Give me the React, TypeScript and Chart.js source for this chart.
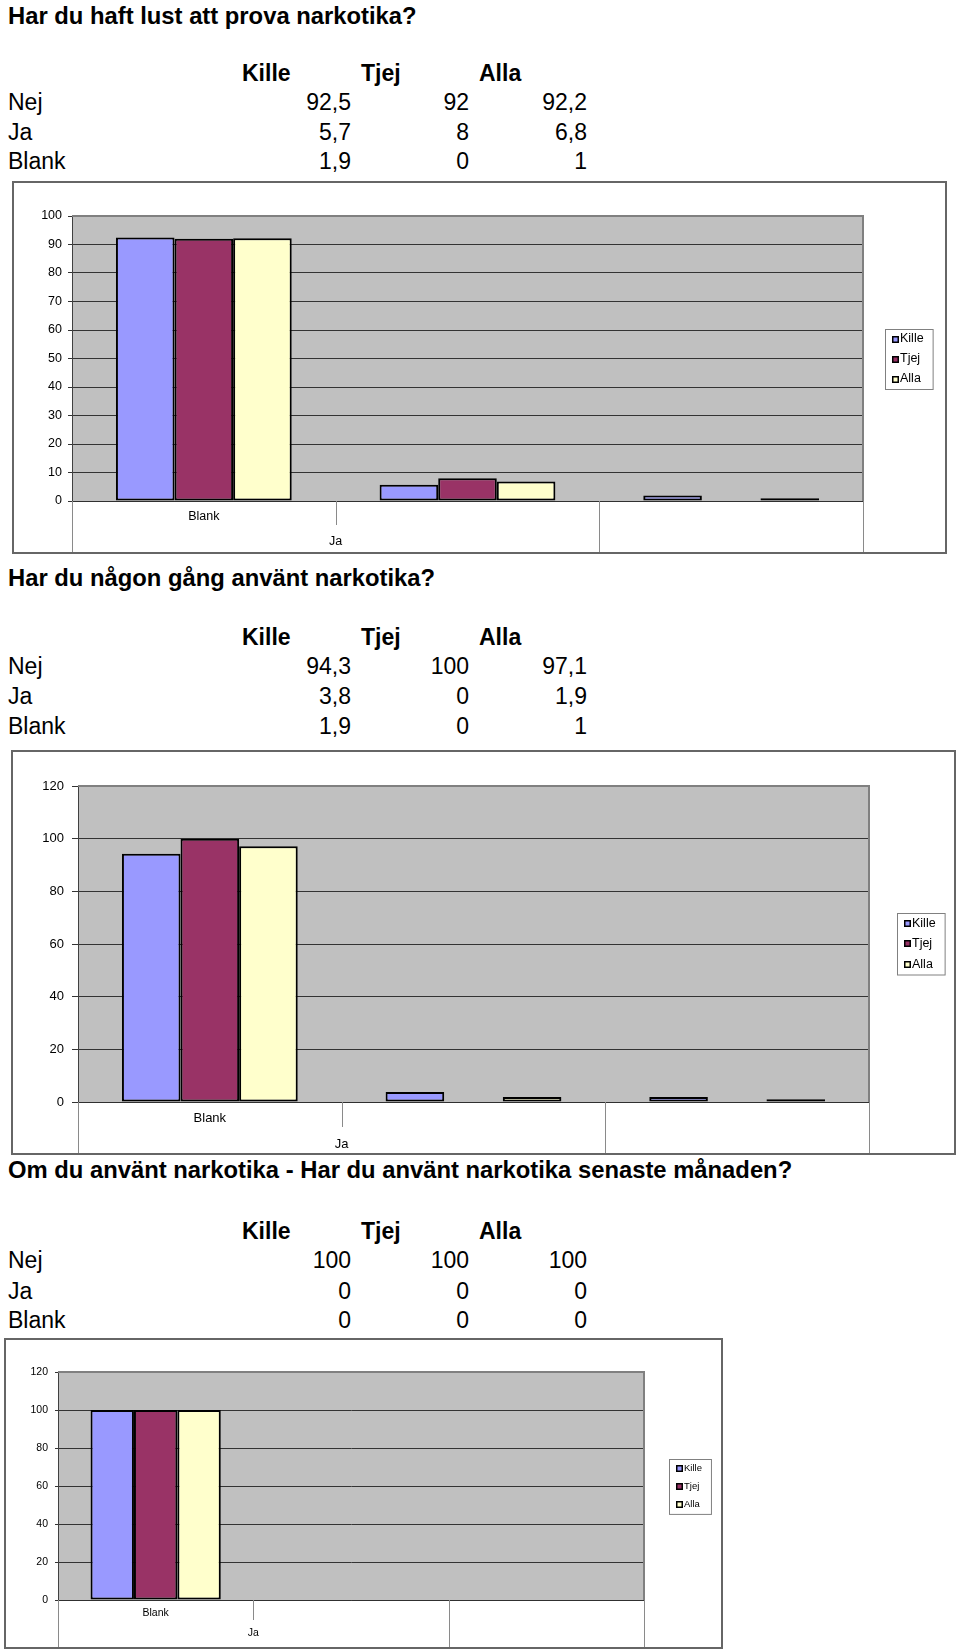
import React, { useEffect, useRef } from "react";
import { Chart, registerables } from "chart.js";

Chart.register(...registerables);

const FONT = '"Liberation Sans", Arial, Helvetica, sans-serif';

// ---- shared data ----
const seriesNames = ["Kille", "Tjej", "Alla"];
const seriesColors = ["#9999FF", "#993366", "#FFFFCC"];
const rowLabels = ["Nej", "Ja", "Blank"];
const axisLabels = ["Blank", "", ""];
const axisGroupLabel = "Ja";

// ---- question 1 ----
const q1Title = "Har du haft lust att prova narkotika?";
const q1Kille = [92.5, 5.7, 1.9];
const q1Tjej = [92, 8, 0];
const q1Alla = [92.2, 6.8, 1];
const q1YMax = 100;
const q1YStep = 10;

// ---- question 2 ----
const q2Title = "Har du någon gång använt narkotika?";
const q2Kille = [94.3, 3.8, 1.9];
const q2Tjej = [100, 0, 0];
const q2Alla = [97.1, 1.9, 1];
const q2YMax = 120;
const q2YStep = 20;

// ---- question 3 ----
const q3Title = "Om du använt narkotika - Har du använt narkotika senaste månaden?";
const q3Kille = [100, 0, 0];
const q3Tjej = [100, 0, 0];
const q3Alla = [100, 0, 0];
const q3YMax = 120;
const q3YStep = 20;

type Cfg = {
  box: { x: number; y: number; w: number; h: number };
  area: { left: number; top: number; right: number; bottom: number };
  tickFont: number;
  tickLen: number;
  tickPad: number;
  legendFont: number;
  legendRowH: number;
  legendRightGap: number;
  xLabelPad: number;
  dividerLen: number;
  groupLabelOffset: number;
};

const decorPlugin = {
  id: "decor",
  beforeDraw(chart: any) {
    const { ctx, chartArea: a, width, height } = chart;
    ctx.save();
    ctx.fillStyle = "#ffffff";
    ctx.fillRect(0, 0, width, height);
    ctx.fillStyle = "#C0C0C0";
    ctx.fillRect(a.left, a.top, a.right - a.left, a.bottom - a.top);
    ctx.restore();
  },
  afterDatasetsDraw(chart: any) {
    const { ctx, chartArea: a } = chart;
    ctx.save();
    ctx.strokeStyle = "#808080";
    ctx.lineWidth = 2;
    ctx.beginPath();
    ctx.moveTo(a.left, a.top);
    ctx.lineTo(a.right, a.top);
    ctx.lineTo(a.right, a.bottom);
    ctx.stroke();
    ctx.restore();
  },
  afterDraw(chart: any) {
    const { ctx, chartArea: a, width, height } = chart;
    const cfg: Cfg & { groupLabel: string } = chart.options.plugins.decor;
    const xs = chart.scales.x;
    const n = chart.data.labels.length;
    const bounds: number[] = [];
    for (let i = 0; i <= n; i++) {
      if (i === 0) bounds.push(a.left);
      else if (i === n) bounds.push(a.right);
      else bounds.push((xs.getPixelForValue(i - 1) + xs.getPixelForValue(i)) / 2);
    }
    ctx.save();
    ctx.strokeStyle = "#8a8a8a";
    ctx.lineWidth = 1;
    bounds.forEach((bx, i) => {
      const y2 = i === 1 ? a.bottom + cfg.dividerLen : height;
      ctx.beginPath();
      ctx.moveTo(Math.round(bx) + 0.5, a.bottom);
      ctx.lineTo(Math.round(bx) + 0.5, y2);
      ctx.stroke();
    });
    ctx.fillStyle = "#000";
    ctx.font = `${cfg.tickFont}px ${FONT}`;
    ctx.textAlign = "center";
    ctx.textBaseline = "middle";
    ctx.fillText(cfg.groupLabel, bounds[1], a.bottom + cfg.groupLabelOffset);

    // outer border
    ctx.strokeStyle = "#666666";
    ctx.lineWidth = 2;
    ctx.strokeRect(1, 1, width - 2, height - 2);

    // legend
    const ds = chart.data.datasets;
    ctx.font = `${cfg.legendFont}px ${FONT}`;
    const tw = Math.max(...ds.map((d: any) => ctx.measureText(d.label).width));
    const lw = 7 + 7 + 1 + tw + 9;
    const lh = ds.length * cfg.legendRowH;
    const lx = Math.round(width - cfg.legendRightGap - lw);
    const ly = Math.round((a.top + a.bottom) / 2 - lh / 2);
    ctx.fillStyle = "#fff";
    ctx.fillRect(lx, ly, lw, lh);
    ctx.strokeStyle = "#808080";
    ctx.lineWidth = 1;
    ctx.strokeRect(lx + 0.5, ly + 0.5, lw, lh);
    ds.forEach((d: any, i: number) => {
      const cy = ly + cfg.legendRowH * (i + 0.5);
      ctx.fillStyle = "#000";
      ctx.fillRect(lx + 7, Math.round(cy - 3.5), 7, 7);
      ctx.fillStyle = d.backgroundColor;
      ctx.fillRect(lx + 8.5, Math.round(cy - 3.5) + 1.5, 4, 4);
      ctx.fillStyle = "#000";
      ctx.textAlign = "left";
      ctx.textBaseline = "middle";
      ctx.fillText(d.label, lx + 15, cy);
    });
    ctx.restore();
  },
};

function BarChart({
  cfg,
  kille,
  tjej,
  alla,
  yMax,
  yStep,
}: {
  cfg: Cfg;
  kille: number[];
  tjej: number[];
  alla: number[];
  yMax: number;
  yStep: number;
}) {
  const ref = useRef<HTMLCanvasElement>(null);
  useEffect(() => {
    const values = [kille, tjej, alla];
    const chart = new Chart(ref.current as HTMLCanvasElement, {
      type: "bar",
      data: {
        labels: axisLabels,
        datasets: seriesNames.map((name, i) => ({
          label: name,
          data: values[i],
          backgroundColor: seriesColors[i],
          borderColor: "#000000",
          borderWidth: 2,
          borderSkipped: false,
          categoryPercentage: 2 / 3,
          barPercentage: 1,
        })),
      },
      options: {
        animation: false,
        responsive: false,
        maintainAspectRatio: false,
        devicePixelRatio: 1,
        layout: {
          padding: { left: 0, top: cfg.area.top, right: cfg.area.right, bottom: 0 },
        },
        plugins: {
          legend: { display: false },
          tooltip: { enabled: false },
          decor: { ...cfg, groupLabel: axisGroupLabel },
        } as any,
        scales: {
          x: {
            type: "category",
            grid: { display: false, drawTicks: false },
            border: { display: true, color: "#303030", width: 1 },
            ticks: {
              color: "#000",
              font: { family: FONT, size: cfg.tickFont },
              padding: cfg.xLabelPad,
              maxRotation: 0,
              autoSkip: false,
            },
            afterFit: (s: any) => {
              s.height = cfg.area.bottom;
            },
          },
          y: {
            min: 0,
            max: yMax,
            grid: { color: "#333333", lineWidth: 1, drawTicks: true, tickLength: cfg.tickLen },
            border: { display: true, color: "#404040", width: 1 },
            ticks: {
              stepSize: yStep,
              color: "#000",
              font: { family: FONT, size: cfg.tickFont },
              padding: cfg.tickPad,
            },
            afterFit: (s: any) => {
              s.width = cfg.area.left;
            },
          },
        },
      },
      plugins: [decorPlugin],
    });
    return () => chart.destroy();
  }, []);
  return (
    <canvas
      ref={ref}
      width={cfg.box.w}
      height={cfg.box.h}
      style={{
        position: "absolute",
        left: cfg.box.x,
        top: cfg.box.y,
        width: cfg.box.w,
        height: cfg.box.h,
      }}
    />
  );
}

const fmt = (v: number) => String(v).replace(".", ",");

function Text({
  x,
  cy,
  children,
  bold,
  size,
  align,
}: {
  x: number;
  cy: number;
  children: React.ReactNode;
  bold?: boolean;
  size: number;
  align?: "left" | "right";
}) {
  const lh = 28;
  const style: React.CSSProperties = {
    position: "absolute",
    top: cy - lh / 2,
    lineHeight: `${lh}px`,
    fontSize: size,
    fontWeight: bold ? "bold" : "normal",
    whiteSpace: "nowrap",
    color: "#000",
  };
  if (align === "right") {
    style.left = x - 200;
    style.width = 200;
    style.textAlign = "right";
  } else {
    style.left = x;
  }
  return <div style={style}>{children}</div>;
}

function Section({
  title,
  kille,
  tjej,
  alla,
  titleY,
  headerY,
  rowYs,
}: {
  title: string;
  kille: number[];
  tjej: number[];
  alla: number[];
  titleY: number;
  headerY: number;
  rowYs: number[];
}) {
  const headerX = [242, 361, 479];
  const valueRight = [351, 469, 587];
  const cols = [kille, tjej, alla];
  const fs = 23;
  return (
    <>
      <Text x={8} cy={titleY} bold size={23.8}>
        {title}
      </Text>
      {seriesNames.map((s, i) => (
        <Text key={s} x={headerX[i]} cy={headerY} bold size={fs}>
          {s}
        </Text>
      ))}
      {rowLabels.map((r, ri) => (
        <React.Fragment key={r}>
          <Text x={8} cy={rowYs[ri]} size={fs}>
            {r}
          </Text>
          {cols.map((c, ci) => (
            <Text key={ci} x={valueRight[ci]} cy={rowYs[ri]} size={fs} align="right">
              {fmt(c[ri])}
            </Text>
          ))}
        </React.Fragment>
      ))}
    </>
  );
}

const cfg1: Cfg = {
  box: { x: 12, y: 181, w: 935, h: 373 },
  area: { left: 60, top: 35, right: 84, bottom: 53 },
  tickFont: 12.5,
  tickLen: 4,
  tickPad: 6,
  legendFont: 12.5,
  legendRowH: 20,
  legendRightGap: 14,
  xLabelPad: 8.5,
  dividerLen: 24,
  groupLabelOffset: 41,
};

const cfg2: Cfg = {
  box: { x: 11, y: 750, w: 945, h: 405 },
  area: { left: 67, top: 36, right: 87, bottom: 53 },
  tickFont: 13,
  tickLen: 6,
  tickPad: 8,
  legendFont: 12.5,
  legendRowH: 20.5,
  legendRightGap: 11,
  xLabelPad: 8.2,
  dividerLen: 25,
  groupLabelOffset: 42,
};

const cfg3: Cfg = {
  box: { x: 4, y: 1338, w: 719, h: 311 },
  area: { left: 54, top: 34, right: 79, bottom: 49 },
  tickFont: 10.5,
  tickLen: 3,
  tickPad: 7,
  legendFont: 9.5,
  legendRowH: 18.3,
  legendRightGap: 12,
  xLabelPad: 6.4,
  dividerLen: 20,
  groupLabelOffset: 33,
};

export default function App() {
  return (
    <div
      style={{
        position: "absolute",
        left: 0,
        top: 0,
        width: 960,
        height: 1652,
        background: "#fff",
        fontFamily: FONT,
        overflow: "hidden",
      }}
    >
      <Section
        title={q1Title}
        kille={q1Kille}
        tjej={q1Tjej}
        alla={q1Alla}
        titleY={16}
        headerY={72.7}
        rowYs={[102.2, 131.7, 161.2]}
      />
      <BarChart cfg={cfg1} kille={q1Kille} tjej={q1Tjej} alla={q1Alla} yMax={q1YMax} yStep={q1YStep} />
      <Section
        title={q2Title}
        kille={q2Kille}
        tjej={q2Tjej}
        alla={q2Alla}
        titleY={577.5}
        headerY={636.5}
        rowYs={[666, 695.5, 726]}
      />
      <BarChart cfg={cfg2} kille={q2Kille} tjej={q2Tjej} alla={q2Alla} yMax={q2YMax} yStep={q2YStep} />
      <Section
        title={q3Title}
        kille={q3Kille}
        tjej={q3Tjej}
        alla={q3Alla}
        titleY={1169.7}
        headerY={1230.8}
        rowYs={[1260.4, 1290.9, 1320.4]}
      />
      <BarChart cfg={cfg3} kille={q3Kille} tjej={q3Tjej} alla={q3Alla} yMax={q3YMax} yStep={q3YStep} />
    </div>
  );
}
